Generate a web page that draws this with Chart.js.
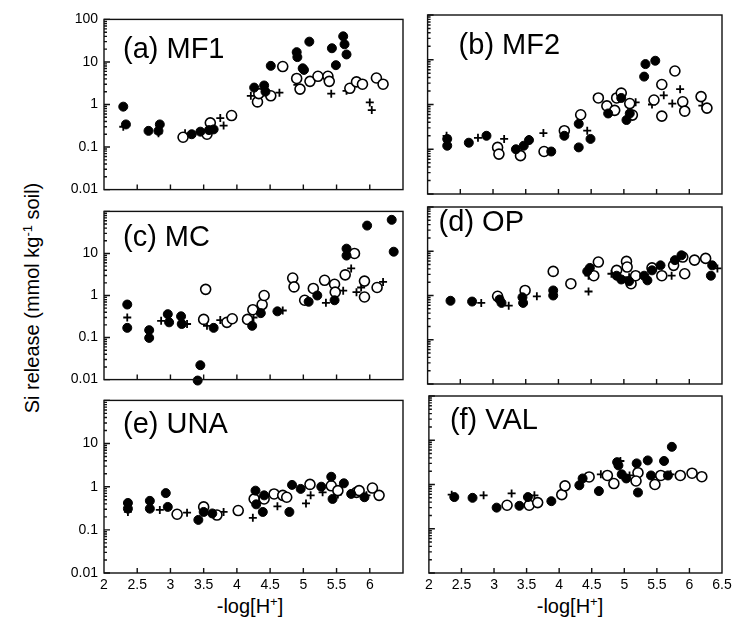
<!DOCTYPE html>
<html>
<head>
<meta charset="utf-8">
<script src="https://cdn.jsdelivr.net/npm/chart.js@4.4.1/dist/chart.umd.min.js"></script>
<style>
  body { margin: 0; background: #fff; }
  #wrap { position: relative; width: 734px; height: 627px; overflow: hidden; background: #fff;
          font-family: Arial, "Liberation Sans", sans-serif; color: #000; }
  #wrap canvas { position: absolute; }
  .ytitle { position: absolute; left: 32px; top: 298px; font-size: 20px; white-space: nowrap;
            transform: translate(-50%, -50%) rotate(-90deg); }
  .xtitle { position: absolute; top: 595px; font-size: 20px; white-space: nowrap; transform: translateX(-50%); }
  sup { font-size: 13px; vertical-align: 7px; line-height: 0; }
</style>
</head>
<body>
<div id="wrap">
  <div class="ytitle">Si release (mmol kg<sup>-1</sup> soil)</div>
  <div class="xtitle" style="left:250px">-log[H<sup>+</sup>]</div>
  <div class="xtitle" style="left:570px">-log[H<sup>+</sup>]</div>
</div>
<script>
// x = -log[H+], y = Si release (mmol/kg soil); filled circles, open circles, plus signs
const xTicks = [2, 2.5, 3, 3.5, 4, 4.5, 5, 5.5, 6, 6.5];
const yTicks = [0.01, 0.1, 1, 10, 100];

const mf1Filled = [[2.29,0.89],[2.33,0.34],[2.67,0.24],[2.82,0.24],[2.84,0.34],[3.32,0.20],[3.45,0.23],[3.58,0.25],[3.65,0.26],
  [4.26,2.5],[4.41,2.8],[4.43,2.0],[4.51,8.1],[4.90,17],[4.91,13],[4.99,7.1],[5.01,6.5],[5.09,30],[5.43,21],[5.49,8.4],[5.60,40],[5.62,26],[5.65,15]];
const mf1Open = [[3.19,0.17],[3.55,0.20],[3.60,0.37],[3.92,0.55],[4.31,1.15],[4.33,1.8],[4.51,1.6],[4.69,7.8],[4.90,4.1],[4.95,2.3],
  [5.10,3.5],[5.22,4.6],[5.37,4.6],[5.39,3.5],[5.70,2.4],[5.80,3.4],[5.89,3.0],[6.10,4.2],[6.20,3.0]];
const mf1Plus = [[2.29,0.30],[2.82,0.21],[3.22,0.21],[3.75,0.48],[3.80,0.32],[4.21,1.6],[4.64,1.9],[4.91,2.9],[5.42,1.8],[5.65,2.1],[6.00,1.12],[6.03,0.74]];

const mf2Filled = [[2.30,0.17],[2.30,0.12],[2.63,0.14],[2.90,0.20],[3.35,0.10],[3.47,0.12],[3.55,0.16],[3.89,0.089],[4.09,0.20],[4.31,0.37],
  [4.31,0.11],[4.49,0.17],[4.76,0.63],[4.96,1.4],[5.04,0.45],[5.09,0.63],[5.31,4.2],[5.33,8.0],[5.48,9.5]];
const mf2Open = [[3.07,0.11],[3.09,0.078],[3.42,0.072],[3.78,0.089],[4.09,0.26],[4.34,0.59],[4.61,1.4],[4.74,0.93],[4.86,0.74],[4.89,1.4],
  [4.96,1.8],[5.09,1.05],[5.13,0.58],[5.46,1.26],[5.58,2.8],[5.58,0.55],[5.78,5.6],[5.90,1.15],[5.93,0.71],[6.18,1.5],[6.27,0.83]];
const mf2Plus = [[2.29,0.20],[2.77,0.18],[3.17,0.17],[3.55,0.17],[3.77,0.23],[4.44,0.26],[5.18,1.12],[5.43,1.0],[5.61,1.6],[5.74,1.05],[5.86,2.2],[6.20,0.94]];

const mcFilled = [[2.35,0.61],[2.35,0.17],[2.68,0.15],[2.68,0.098],[2.96,0.36],[2.98,0.23],[3.16,0.32],[3.17,0.21],[3.45,0.022],[3.41,0.0095],
  [3.65,0.17],[4.23,0.19],[4.36,0.38],[4.61,0.42],[5.08,0.71],[5.21,1.0],[5.47,0.77],[5.65,13],[5.65,8.9],[5.96,46],[6.33,63],[6.36,11]];
const mcOpen = [[3.53,1.4],[3.50,0.27],[3.85,0.23],[3.93,0.28],[4.16,0.27],[4.24,0.46],[4.38,0.61],[4.41,1.0],[4.84,2.6],[4.86,1.6],
  [5.02,0.77],[5.15,1.47],[5.32,2.3],[5.47,1.85],[5.48,1.2],[5.63,3.1],[5.77,10],[5.92,2.2],[5.92,0.92],[6.11,1.55]];
const mcPlus = [[2.35,0.30],[2.86,0.25],[3.25,0.21],[3.55,0.19],[3.75,0.26],[4.25,0.30],[4.69,0.44],[5.14,1.38],[5.34,0.67],[5.60,1.3],
  [5.72,4.4],[5.80,1.2],[5.87,1.55],[6.20,2.1]];

const opFilled = [[2.35,0.76],[2.68,0.73],[3.10,0.81],[3.13,0.68],[3.45,0.91],[3.46,0.68],[3.92,1.3],[3.92,1.0],[4.44,3.5],[4.48,4.2],
  [4.89,2.8],[4.96,2.3],[5.08,2.1],[5.31,2.8],[5.36,2.2],[5.43,3.7],[5.56,4.8],[5.78,6.3],[5.88,8.1],[6.33,2.8],[6.35,4.8]];
const opOpen = [[3.07,0.96],[3.49,1.3],[3.92,3.5],[4.19,1.85],[4.54,2.8],[4.61,5.7],[4.89,3.7],[5.04,5.9],[5.05,4.4],[5.11,1.85],
  [5.18,2.8],[5.43,4.2],[5.58,2.8],[5.76,4.8],[5.90,7.4],[5.93,3.1],[6.08,6.3],[6.25,6.9]];
const opPlus = [[2.82,0.68],[3.24,0.59],[3.67,0.96],[4.46,1.23],[4.46,2.8],[4.81,3.1],[5.08,2.6],[5.73,2.8],[6.43,4.1]];

const unaFilled = [[2.36,0.42],[2.36,0.31],[2.69,0.47],[2.69,0.31],[2.93,0.71],[2.96,0.34],[3.42,0.17],[3.50,0.26],[3.63,0.24],[4.28,0.81],
  [4.29,0.39],[4.39,0.26],[4.41,0.63],[4.79,0.26],[4.83,1.1],[4.96,0.89],[5.27,1.0],[5.42,1.7],[5.44,0.52],[5.61,1.2],[5.72,0.68],[5.92,0.57]];
const unaOpen = [[3.10,0.23],[3.50,0.34],[3.70,0.22],[4.02,0.28],[4.26,0.52],[4.41,0.52],[4.56,0.68],[4.69,0.63],[4.75,0.57],[5.10,1.13],
  [5.42,1.05],[5.52,0.81],[5.80,0.74],[5.84,0.81],[6.04,0.93],[6.14,0.63]];
const unaPlus = [[2.36,0.26],[2.84,0.29],[3.25,0.25],[3.80,0.26],[4.24,0.19],[4.61,0.35],[5.04,0.41],[5.11,0.63],[5.29,0.74],[5.52,0.66],[5.95,0.63]];

const valFilled = [[2.39,0.52],[2.67,0.50],[3.04,0.30],[3.39,0.33],[3.52,0.52],[3.88,0.42],[4.31,0.96],[4.36,1.37],[4.61,0.71],[4.89,3.2],
  [4.91,2.7],[4.96,1.7],[5.03,1.37],[5.19,3.0],[5.21,0.66],[5.36,3.5],[5.41,1.6],[5.61,3.4],[5.67,1.6],[5.73,7.1]];
const valOpen = [[3.20,0.34],[3.54,0.34],[3.67,0.39],[4.04,0.59],[4.09,0.93],[4.46,1.48],[4.74,1.6],[4.84,1.05],[5.21,1.85],[5.18,1.2],
  [5.47,1.0],[5.56,1.6],[5.86,1.6],[6.04,1.8],[6.19,1.5]];
const valPlus = [[2.35,0.59],[2.84,0.57],[3.27,0.63],[3.62,0.57],[4.64,1.7],[4.94,3.4],[5.08,1.6],[5.43,1.48],[5.71,1.7]];

// layout of the 3x2 grid (plot-area edges in page pixels)
const colEdges = [[104, 403], [421, 722]];
const rowEdges = [[15, 194], [207, 384], [396, 573]];

const panels = [
  { label: '(a) MF1', filled: mf1Filled, open: mf1Open, plus: mf1Plus, col: 0, row: 0, lx: 19, ly: 39 },
  { label: '(b) MF2', filled: mf2Filled, open: mf2Open, plus: mf2Plus, col: 1, row: 0, lx: 31, ly: 39 },
  { label: '(c) MC',  filled: mcFilled,  open: mcOpen,  plus: mcPlus,  col: 0, row: 1, lx: 19, ly: 35 },
  { label: '(d) OP',  filled: opFilled,  open: opOpen,  plus: opPlus,  col: 1, row: 1, lx: 11, ly: 24 },
  { label: '(e) UNA', filled: unaFilled, open: unaOpen, plus: unaPlus, col: 0, row: 2, lx: 19, ly: 33 },
  { label: '(f) VAL', filled: valFilled, open: valOpen, plus: valPlus, col: 1, row: 2, lx: 21, ly: 33 }
];

const toPts = arr => arr.map(p => ({ x: p[0], y: p[1] }));

// frame, inward tick marks and panel label
const framePlugin = {
  id: 'frame',
  afterDraw(chart, args, opts) {
    const { ctx, chartArea: a, scales } = chart;
    ctx.save();
    ctx.strokeStyle = '#111';
    ctx.lineWidth = 1.4;
    ctx.strokeRect(a.left, a.top, a.right - a.left, a.bottom - a.top);
    ctx.beginPath();
    yTicks.forEach(v => {
      const y = scales.y.getPixelForValue(v);
      ctx.moveTo(a.left, y); ctx.lineTo(a.left + 6, y);
      if (v < 100) {
        for (let k = 2; k < 10; k++) {
          const ym = scales.y.getPixelForValue(v * k);
          ctx.moveTo(a.left, ym); ctx.lineTo(a.left + 3, ym);
        }
      }
    });
    xTicks.slice(1, -1).forEach(v => {
      const x = scales.x.getPixelForValue(v);
      ctx.moveTo(x, a.bottom); ctx.lineTo(x, a.bottom - 5);
    });
    ctx.stroke();
    ctx.fillStyle = '#000';
    ctx.font = '29px Arial, "Liberation Sans", sans-serif';
    ctx.textBaseline = 'alphabetic';
    ctx.fillText(opts.text, a.left + opts.lx, a.top + opts.ly);
    ctx.restore();
  }
};

const wrap = document.getElementById('wrap');

panels.forEach(p => {
  const [L, R] = colEdges[p.col];
  const [T, B] = rowEdges[p.row];
  const yw = p.col === 0 ? 50 : 0;
  const xh = p.row === 2 ? 24 : 0;
  const padT = 10, padR = 14, padB = p.row === 2 ? 0 : 10;

  const canvas = document.createElement('canvas');
  const w = (R - L) + yw + padR;
  const h = (B - T) + padT + xh + padB;
  canvas.width = w; canvas.height = h;
  canvas.style.left = (L - yw) + 'px';
  canvas.style.top = (T - padT) + 'px';
  canvas.style.width = w + 'px';
  canvas.style.height = h + 'px';
  wrap.appendChild(canvas);

  new Chart(canvas, {
    type: 'scatter',
    data: {
      datasets: [
        { label: 'filled', data: toPts(p.filled), pointStyle: 'circle', pointRadius: 4.5,
          backgroundColor: '#000', borderColor: '#000', borderWidth: 1, clip: false },
        { label: 'open', data: toPts(p.open), pointStyle: 'circle', pointRadius: 5,
          backgroundColor: '#fff', borderColor: '#000', borderWidth: 1.6, clip: false },
        { label: 'plus', data: toPts(p.plus), pointStyle: 'cross', pointRadius: 4,
          backgroundColor: '#000', borderColor: '#000', borderWidth: 1.8, clip: false }
      ]
    },
    options: {
      responsive: false,
      animation: false,
      events: [],
      layout: { padding: { top: padT, right: padR, bottom: padB, left: 0 } },
      plugins: {
        legend: { display: false },
        tooltip: { enabled: false },
        frame: { text: p.label, lx: p.lx, ly: p.ly }
      },
      scales: {
        x: {
          type: 'linear', min: 2, max: 6.5, position: 'bottom',
          grid: { display: false, drawTicks: false },
          border: { display: false },
          afterBuildTicks: s => { s.ticks = xTicks.map(v => ({ value: v })); },
          afterFit: s => { s.height = xh; },
          ticks: {
            display: p.row === 2, autoSkip: false, maxRotation: 0, padding: 4,
            color: '#000', font: { size: 14, family: 'Arial, "Liberation Sans", sans-serif' },
            callback: v => (p.col === 0 && v === 6.5) ? '' : String(v)
          }
        },
        y: {
          type: 'logarithmic', min: 0.01, max: 100, position: 'left',
          grid: { display: false, drawTicks: false },
          border: { display: false },
          afterBuildTicks: s => { s.ticks = yTicks.map(v => ({ value: v })); },
          afterFit: s => { s.width = yw; },
          ticks: {
            display: p.col === 0, padding: 6,
            color: '#000', font: { size: 14, family: 'Arial, "Liberation Sans", sans-serif' },
            callback: v => (p.row > 0 && v === 100) ? '' : String(v)
          }
        }
      }
    },
    plugins: [framePlugin]
  });
});
</script>
</body>
</html>
